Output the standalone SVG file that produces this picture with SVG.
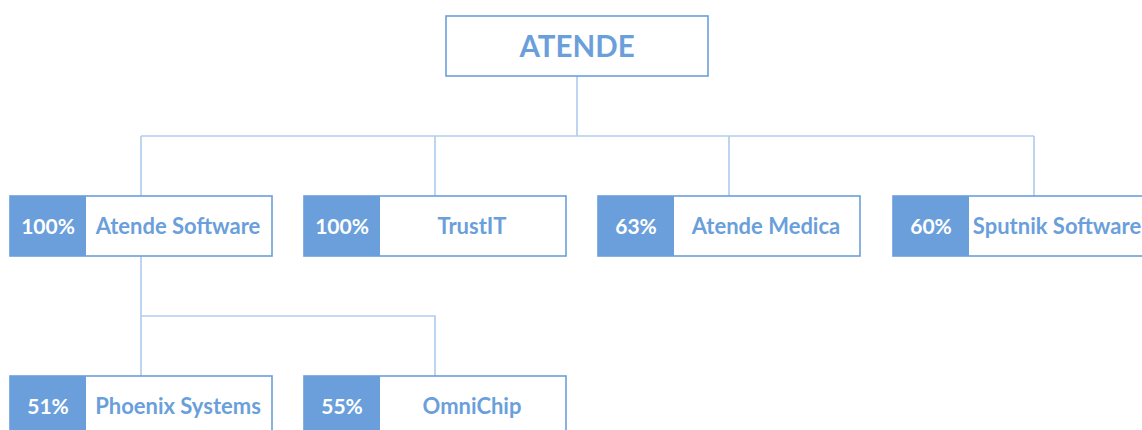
<svg xmlns="http://www.w3.org/2000/svg" width="1142" height="430" viewBox="0 0 1142 430">
<style>
.box{fill:#ffffff;stroke:#6a9fdb;stroke-width:1.6}
.pct{fill:#6a9fdb}
.conn{fill:none;stroke:#b3cdee;stroke-width:1.7}
text{font-family:Lato,"Open Sans","Liberation Sans",sans-serif;font-weight:bold;text-anchor:middle}
.pt{fill:#ffffff;font-size:21px}
.lb{fill:#6a9fdb;font-size:22px}
.title{fill:#6a9fdb;font-size:29.5px}
</style>
<rect width="1142" height="430" fill="#ffffff"/>
<g id="connectors">
<path class="conn" d="M577 76V136M141 136H1034M141 136V196M435 136V196M729 136V196M1034 136V196"/>
<path class="conn" d="M141 256V316H435V376M141 316V376"/>
</g>
<g id="atende">
<rect class="box" x="446" y="16" width="262" height="60"/>
<text class="title" x="577" y="57">ATENDE</text>
</g>
<g id="atende-software">
<rect class="box" x="10" y="196" width="262" height="60"/>
<rect class="pct" x="10" y="196" width="76" height="60"/>
<text class="pt" x="48" y="234">100%</text>
<text class="lb" x="178" y="234">Atende Software</text>
</g>
<g id="trustit">
<rect class="box" x="304" y="196" width="262" height="60"/>
<rect class="pct" x="304" y="196" width="76" height="60"/>
<text class="pt" x="342" y="234">100%</text>
<text class="lb" x="472" y="234">TrustIT</text>
</g>
<g id="atende-medica">
<rect class="box" x="598" y="196" width="262" height="60"/>
<rect class="pct" x="598" y="196" width="76" height="60"/>
<text class="pt" x="636" y="234">63%</text>
<text class="lb" x="766" y="234">Atende Medica</text>
</g>
<g id="sputnik-software">
<rect class="box" x="893" y="196" width="262" height="60"/>
<rect class="pct" x="893" y="196" width="76" height="60"/>
<text class="pt" x="931" y="234">60%</text>
<text class="lb" x="1057" y="234">Sputnik Software</text>
</g>
<g id="phoenix-systems">
<rect class="box" x="10" y="376" width="262" height="60"/>
<rect class="pct" x="10" y="376" width="76" height="60"/>
<text class="pt" x="48" y="414">51%</text>
<text class="lb" x="178" y="414">Phoenix Systems</text>
</g>
<g id="omnichip">
<rect class="box" x="304" y="376" width="262" height="60"/>
<rect class="pct" x="304" y="376" width="76" height="60"/>
<text class="pt" x="342" y="414">55%</text>
<text class="lb" x="472" y="414">OmniChip</text>
</g>
</svg>
